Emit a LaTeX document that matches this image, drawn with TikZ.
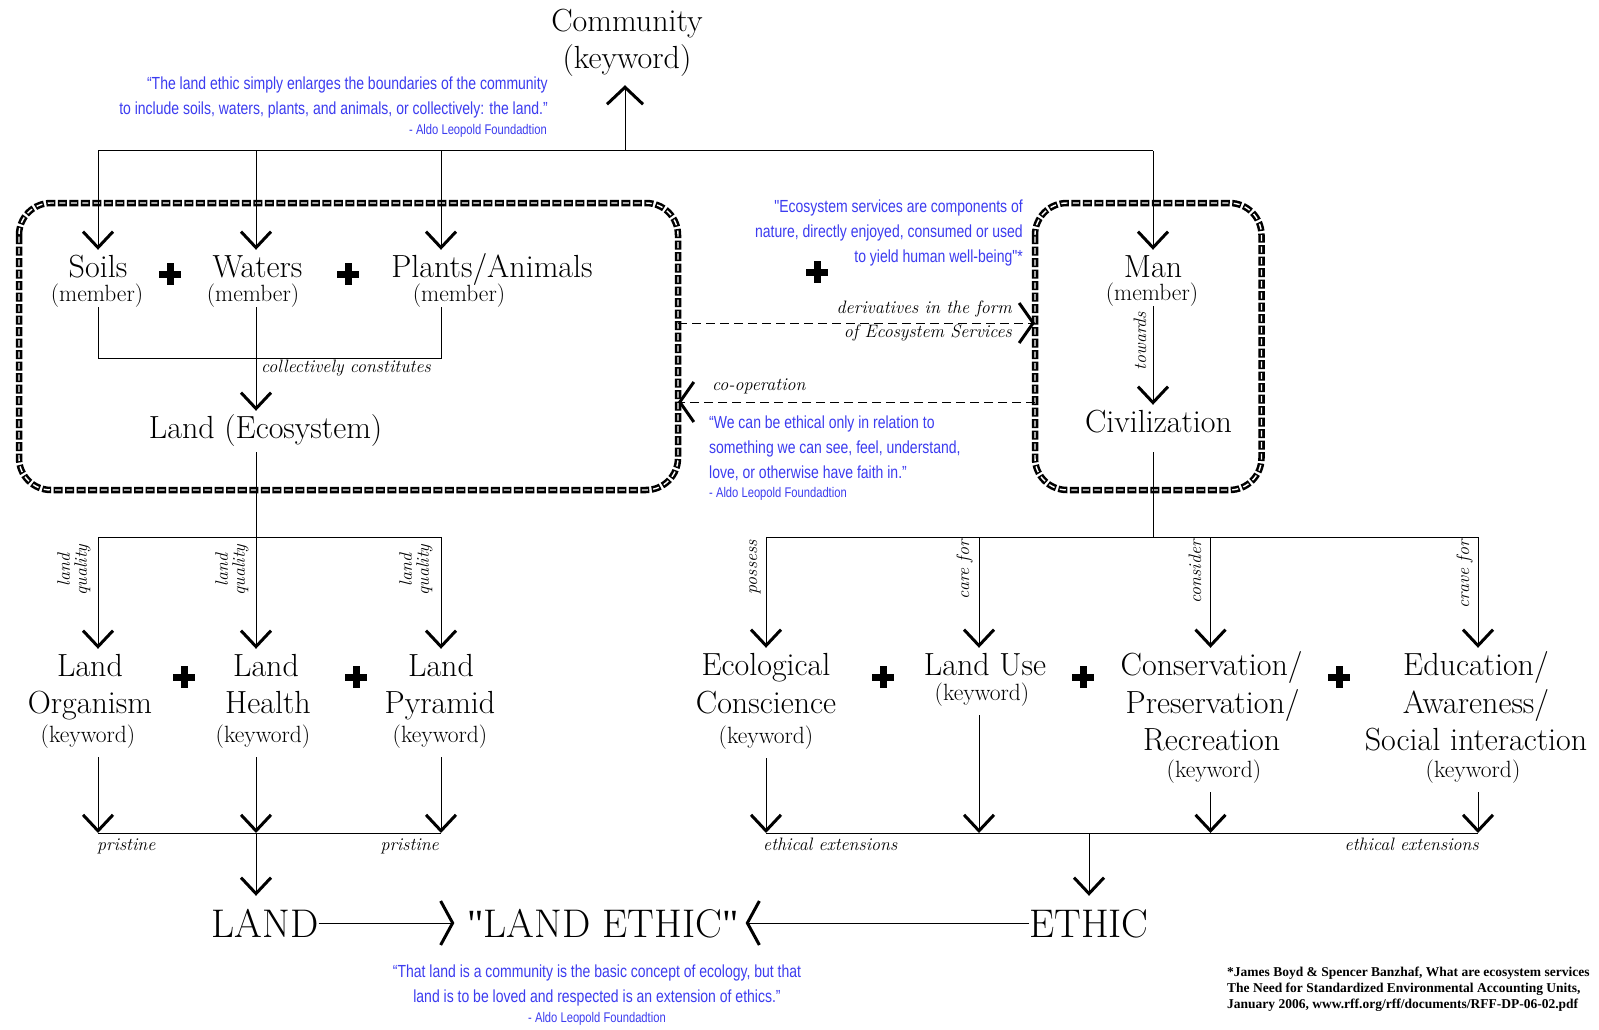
\documentclass[tikz,border=0pt]{standalone}
\usepackage{fontspec}
\usetikzlibrary{arrows.meta}
\newfontfamily\handfont{Liberation Sans}[FakeStretch=0.8]
\newfontfamily\citefont{Liberation Serif}
\definecolor{quoteblue}{RGB}{60,60,240}

\tikzset{
  line/.style={line width=1pt, draw=black},
  arr/.style={line, -{Straight Barb[length=16pt,width=30pt,line width=3pt]}},
  arrup/.style={line, -{Straight Barb[length=17pt,width=36pt,line width=3pt]}},
  harr/.style={line, -{Straight Barb[length=12pt,width=44pt,line width=3pt]}},
  darr/.style={line, dash pattern=on 9pt off 5pt, -{Straight Barb[length=14pt,width=40pt,line width=3pt]}},
  chainouter/.style={draw=black, line width=6.5pt, dash pattern=on 9pt off 2.5pt, rounded corners=32pt},
  chaininner/.style={draw=white, line width=1.4pt, dash pattern=on 0pt off 1.5pt on 6pt off 4pt, rounded corners=32pt},
  word/.style={font=\fontsize{32}{32}\selectfont, inner sep=0pt, anchor=base,
    text height=22pt, text depth=7pt},
  sub/.style={font=\fontsize{23.5}{24}\selectfont, inner sep=0pt, anchor=base,
    text height=16pt, text depth=6pt},
  big/.style={font=\fontsize{40}{40}\selectfont, inner sep=0pt, anchor=base,
    text height=28pt, text depth=0pt},
  lbl/.style={font=\fontsize{18}{17}\selectfont\itshape, inner sep=0pt},
  quote/.style={font=\handfont\fontsize{17.5}{20}\selectfont, text=quoteblue, inner sep=0pt},
  attr/.style={font=\handfont\fontsize{14}{16}\selectfont, text=quoteblue, inner sep=0pt},
  cite/.style={font=\citefont\bfseries\fontsize{13.5}{16}\selectfont, inner sep=0pt, anchor=base west},
  plussign/.pic={
    \fill (-11,-3.5) rectangle (11,3.5);
    \fill (-3.5,-11) rectangle (3.5,11);
  }
}

\begin{document}
\begin{tikzpicture}[x=1pt,y=-1pt]
\fill[white] (0,0) rectangle (1599,1030);
\useasboundingbox (0,0) rectangle (1599,1030);

% the two grouping frames (chain-like dashed outline)
\coordinate (ecoNW) at (19,203);
\coordinate (ecoSE) at (678,490);
\coordinate (civNW) at (1035,203);
\coordinate (civSE) at (1261.5,490);
\draw[chainouter] (ecoNW) rectangle (ecoSE);
\draw[chaininner] (ecoNW) rectangle (ecoSE);
\draw[chainouter] (civNW) rectangle (civSE);
\draw[chaininner] (civNW) rectangle (civSE);

% column and row references
\coordinate (xS) at (98,0);
\coordinate (xW) at (256,0);
\coordinate (xP) at (441,0);
\coordinate (xC) at (625,0);
\coordinate (xM) at (1153,0);
\coordinate (xE1) at (766,0);
\coordinate (xE2) at (979,0);
\coordinate (xE3) at (1210.5,0);
\coordinate (xE4) at (1478,0);
\coordinate (xEt) at (1089,0);
\coordinate (yTop) at (0,151);
\coordinate (yMem) at (0,358);
\coordinate (yQ) at (0,537);
\coordinate (yPr) at (0,833);
\coordinate (yServ) at (0,323);
\coordinate (yCoop) at (0,402);

% top
\node[word] (comm) at (627,32) {Community};
\node[word] (commkw) at (627,69) {(keyword)};

% members
\node[word] (soils) at (98,277) {Soils};
\node[sub] (soilsm) at (97,301) {(member)};
\node[word] (waters) at (257.5,277) {Waters};
\node[sub] (watersm) at (253,301) {(member)};
\node[word] (plants) at (492,277) {Plants/Animals};
\node[sub] (plantsm) at (459,301) {(member)};
\node[word] (man) at (1153,277) {Man};
\node[sub] (manm) at (1152,300) {(member)};
\node[word] (landeco) at (265.6,438) {Land (Ecosystem)};
\node[word] (civ) at (1158.5,432) {Civilization};

% land keywords
\node[word] (lo1) at (90,676) {Land};
\node[word] (lo2) at (90,713) {Organism};
\node[sub] (lo3) at (88,742) {(keyword)};
\node[word] (lh1) at (266,676) {Land};
\node[word] (lh2) at (268,713) {Health};
\node[sub] (lh3) at (263,742) {(keyword)};
\node[word] (lp1) at (441,676) {Land};
\node[word] (lp2) at (440,713) {Pyramid};
\node[sub] (lp3) at (440,742) {(keyword)};

% ethic keywords
\node[word] (ec1) at (766,675) {Ecological};
\node[word] (ec2) at (766,713) {Conscience};
\node[sub] (ec3) at (766,743) {(keyword)};
\node[word] (lu1) at (985,675) {Land Use};
\node[sub] (lu2) at (982,700) {(keyword)};
\node[word] (cp1) at (1211.6,675) {Conservation/};
\node[word] (cp2) at (1212.6,713) {Preservation/};
\node[word] (cp3) at (1211.6,750) {Recreation};
\node[sub] (cp4) at (1214,777) {(keyword)};
\node[word] (ed1) at (1476,675) {Education/};
\node[word] (ed2) at (1476,713) {Awareness/};
\node[word] (ed3) at (1476,750) {Social interaction};
\node[sub] (ed4) at (1473,777) {(keyword)};

% bottom line
\node[big] (landT) at (265,937) {LAND};
\node[big] (le) at (603,937) {{\citefont"}LAND ETHIC{\citefont"}};
\node[big] (ethicT) at (1089,937) {ETHIC};

% plus signs
\pic at (170,274) {plussign};
\pic at (348,274) {plussign};
\pic at (817,272) {plussign};
\pic at (184,677) {plussign};
\pic at (356,677) {plussign};
\pic at (883,677) {plussign};
\pic at (1083,677) {plussign};
\pic at (1339,677) {plussign};

% connector labels
\node[lbl, anchor=base west] (collect) at (261,372) {collectively constitutes};
\node[lbl, anchor=base east] (deriv1) at (1012,313) {derivatives in the form};
\node[lbl, anchor=base east] (deriv2) at (1012,337) {of Ecosystem Services};
\node[lbl, anchor=base west] (coop) at (712,390) {co-operation};
\node[lbl, rotate=90, anchor=base] (towards) at (1146,341) {towards};
\node[lbl, rotate=90, align=center] (lq1) at (74,570) {land\\quality};
\node[lbl, rotate=90, align=center] (lq2) at (232,570) {land\\quality};
\node[lbl, rotate=90, align=center] (lq3) at (416,570) {land\\quality};
\node[lbl, rotate=90, anchor=base east] (v1) at (757,540) {possess};
\node[lbl, rotate=90, anchor=base east] (v2) at (969,540) {care for};
\node[lbl, rotate=90, anchor=base east] (v3) at (1201,540) {consider};
\node[lbl, rotate=90, anchor=base east] (v4) at (1469,540) {crave for};
\node[lbl, anchor=base west] (pr1) at (97,850) {pristine};
\node[lbl, anchor=base east] (pr2) at (439,850) {pristine};
\node[lbl, anchor=base west] (ee1) at (763,850) {ethical extensions};
\node[lbl, anchor=base east] (ee2) at (1479,850) {ethical extensions};

% community feeds
\draw[line] (xS |- yTop) -- (xM |- yTop);
\draw[arrup, shorten >=9pt] (xC |- yTop) -- (xC |- commkw.south);
\draw[arr, shorten >=5pt] (xS |- yTop) -- (xS |- soils.north);
\draw[arr, shorten >=5pt] (xW |- yTop) -- (xW |- waters.north);
\draw[arr, shorten >=5pt] (xP |- yTop) -- (xP |- plants.north);
\draw[arr, shorten >=5pt] (xM |- yTop) -- (xM |- man.north);

% members constitute the land
\draw[line] (xS |- soilsm.south) -- (xS |- yMem) -- (xP |- yMem) -- (xP |- plantsm.south);
\draw[arr, shorten >=5pt] (xW |- watersm.south) -- (xW |- landeco.north);
\draw[arr, shorten >=5pt] (xM |- manm.south) -- (xM |- civ.north);

% land qualities
\draw[line] (xS |- yQ) -- (xP |- yQ);
\draw[arr, shorten <=7pt, shorten >=5pt] (xW |- landeco.south) -- (xW |- lh1.north);
\draw[arr, shorten >=5pt] (xS |- yQ) -- (xS |- lo1.north);
\draw[arr, shorten >=5pt] (xP |- yQ) -- (xP |- lp1.north);

\draw[line] (xS |- yPr) -- (xP |- yPr);
\draw[arr, shorten <=9pt] (xS |- lo3.south) -- (xS |- yPr);
\draw[arr, shorten <=9pt] (xW |- lh3.south) -- (xW |- yPr);
\draw[arr, shorten <=9pt] (xP |- lp3.south) -- (xP |- yPr);
\draw[arr, shorten >=13pt] (xW |- yPr) -- (xW |- landT.north);

% civilization branches
\draw[line, shorten <=13pt] (xM |- civ.south) -- (xM |- yQ);
\draw[line] (xE1 |- yQ) -- (xE4 |- yQ);
\draw[arr, shorten >=5pt] (xE1 |- yQ) -- (xE1 |- ec1.north);
\draw[arr, shorten >=5pt] (xE2 |- yQ) -- (xE2 |- lu1.north);
\draw[arr, shorten >=5pt] (xE3 |- yQ) -- (xE3 |- cp1.north);
\draw[arr, shorten >=5pt] (xE4 |- yQ) -- (xE4 |- ed1.north);

\draw[line] (xE1 |- yPr) -- (xE4 |- yPr);
\draw[arr, shorten <=9pt] (xE1 |- ec3.south) -- (xE1 |- yPr);
\draw[arr, shorten <=9pt] (xE2 |- lu2.south) -- (xE2 |- yPr);
\draw[arr, shorten <=9pt] (xE3 |- cp4.south) -- (xE3 |- yPr);
\draw[arr, shorten <=9pt] (xE4 |- ed4.south) -- (xE4 |- yPr);
\draw[arr, shorten >=13pt] (xEt |- yPr) -- (xEt |- ethicT.north);

% land + ethic
\draw[harr, shorten >=13pt] (landT.east) -- (le.west);
\draw[harr, shorten >=7pt] (ethicT.west) -- (le.east);

% exchanges between the frames
\draw[darr] (ecoSE |- yServ) -- (civNW |- yServ);
\draw[darr] (civNW |- yCoop) -- (ecoSE |- yCoop);

% quotations
\node[quote, anchor=base east] (q1a) at (548,90) {“The land ethic simply enlarges the boundaries of the community};
\node[quote, anchor=base east] (q1b) at (548,115) {to include soils, waters, plants, and animals, or collectively: the land.”};
\node[attr, anchor=base east] (q1c) at (547,135) {- Aldo Leopold Foundadtion};

\node[quote, anchor=base east] (q2a) at (1023,212) {"Ecosystem services are components of};
\node[quote, anchor=base east] (q2b) at (1023,237) {nature, directly enjoyed, consumed or used};
\node[quote, anchor=base east] (q2c) at (1023,262) {to yield human well-being"*};

\node[quote, anchor=base west] (q3a) at (709,428) {“We can be ethical only in relation to};
\node[quote, anchor=base west] (q3b) at (709,453) {something we can see, feel, understand,};
\node[quote, anchor=base west] (q3c) at (709,478) {love, or otherwise have faith in.”};
\node[attr, anchor=base west] (q3d) at (709,497) {- Aldo Leopold Foundadtion};

\node[quote, anchor=base] (q4a) at (597,977) {“That land is a community is the basic concept of ecology, but that};
\node[quote, anchor=base] (q4b) at (597,1002) {land is to be loved and respected is an extension of ethics.”};
\node[attr, anchor=base] (q4c) at (597,1022) {- Aldo Leopold Foundadtion};

% reference
\node[cite] (cit1) at (1227,976) {*James Boyd \& Spencer Banzhaf, What are ecosystem services};
\node[cite] (cit2) at (1227,992) {The Need for Standardized Environmental Accounting Units,};
\node[cite] (cit3) at (1227,1008) {January 2006, www.rff.org/rff/documents/RFF-DP-06-02.pdf};
\end{tikzpicture}
\end{document}
